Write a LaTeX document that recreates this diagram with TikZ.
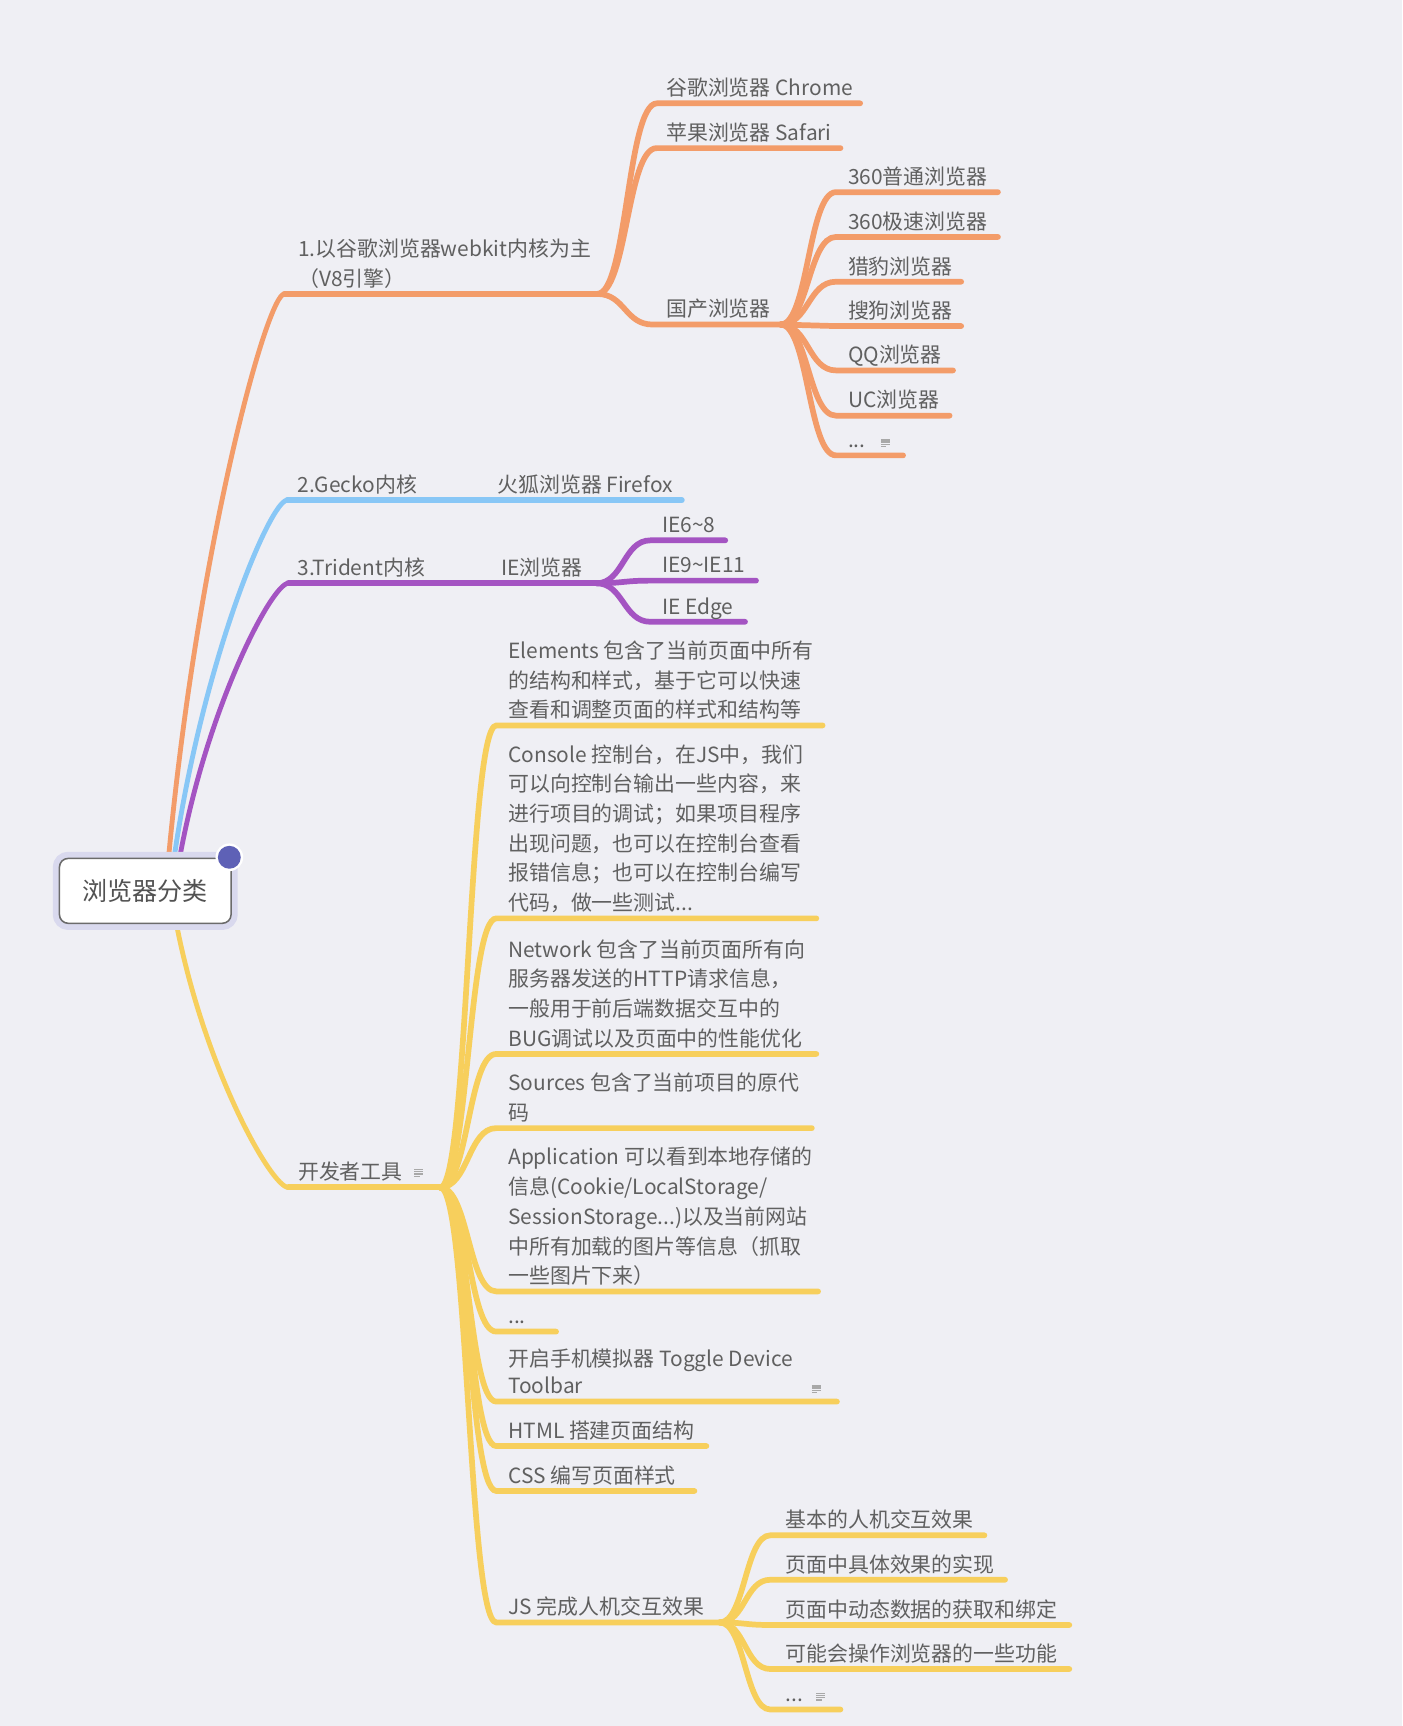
\documentclass[tikz,border=0pt]{standalone}
\usepackage{fontspec}
\newfontfamily\cjk{Noto Sans CJK SC}
\usetikzlibrary{calc}
\definecolor{bg}{HTML}{EFEFF4}
\definecolor{org}{HTML}{F39C69}
\definecolor{blu}{HTML}{88C7F6}
\definecolor{pur}{HTML}{A454C2}
\definecolor{yel}{HTML}{F7CF5C}
\definecolor{txt}{HTML}{606060}
\definecolor{halo}{HTML}{D9D9EE}
\definecolor{dotc}{HTML}{5E61B6}
\definecolor{iconc}{HTML}{A8A8A8}
\definecolor{rootborder}{HTML}{6B6B6B}
% root connector: S -> C
\newcommand\rootlink[3]{%
  \coordinate (ra) at ($(#2)!0.25!(#3)$);
  \coordinate (rb) at ($(#2)!0.55!(#3)$);
  \coordinate (rd) at ($(#2)!0.85!(#3)$);
  \draw[#1] (#2) .. controls (ra |- rb) and (rd |- #3) .. (#3);}
% child connector: P -> C -- E
\newcommand\kid[4]{%
  \coordinate (km) at ($(#2)!0.5!(#3)$);
  \draw[#1] (#2) .. controls (km |- #2) and (km |- #3) .. (#3) -- (#4);}
% leaf: #1 colour, #2 parent fan, #3 name, #4 Cx, #5 Cy, #6 Ex, #7 text x, #8 last-line baseline, #9 text
\newcommand\leaf[9]{%
  \coordinate (#3-c) at (#4,#5);
  \coordinate (#3-e) at (#6,#5);
  \kid{kidconn,#1}{#2}{#3-c}{#3-e}
  \node[lbl] (#3) at (#7,#8) {#9};}
\newcommand\noteicon[2]{%
  \begin{scope}[shift={(#1,#2)}]
    \foreach \yy/\ww in {-3/8,-1/8,1/8,3/5}
      \draw[iconc, line width=0.6pt] (-4,\yy) -- (-4+\ww,\yy);
  \end{scope}}
\begin{document}
\begin{tikzpicture}[x=0.5pt,y=-0.5pt,
  lbl/.style={font=\cjk\fontsize{9.5}{13.5}\selectfont, text=txt, inner sep=0pt, anchor=base west, align=left},
  ul/.style={line width=2.7pt, line cap=round},
  rootconn/.style={line width=2.2pt, line cap=round},
  kidconn/.style={line width=2.6pt, line cap=round},
  rootbox/.style={draw=rootborder, fill=white, rounded corners=4pt, line width=0.7pt,
    preaction={draw=halo, line width=6pt, rounded corners=5pt},
    minimum width=78pt, minimum height=29.5pt, inner sep=0pt,
    font=\cjk\fontsize{11.4}{14}\selectfont, text=txt!85!black},
]
\fill[bg] (0,0) rectangle (1274,1568.4);
\useasboundingbox (0,0) rectangle (1274,1568.4);

% ---------- root branches ----------
\coordinate (S1) at (153,781);
\coordinate (S2) at (158,781);
\coordinate (S3) at (163,781);
\coordinate (S4) at (160,838);
\coordinate (C1) at (258.4,267.1);  \coordinate (E1) at (542.7,267.1);
\coordinate (C2) at (261,454.5);    \coordinate (E2) at (619.5,454.5);
\coordinate (C3) at (262,530);      \coordinate (E3) at (542,530);
\coordinate (C4) at (262,1079);     \coordinate (E4) at (400,1079);

\rootlink{rootconn,org}{S1}{C1}
\draw[ul,org] (C1) -- (E1);
\rootlink{rootconn,blu}{S2}{C2}
\draw[ul,blu] (C2) -- (E2);
\rootlink{rootconn,pur}{S3}{C3}
\draw[ul,pur] (C3) -- (E3);
\rootlink{rootconn,yel}{S4}{C4}
\draw[ul,yel] (C4) -- (E4);

\node[lbl] (b1) at (270.5,260.1) {1.以谷歌浏览器webkit内核为主\\（V8引擎）};
\node[lbl] (b2) at (270,447.5) {2.Gecko内核};
\node[lbl] (ff) at (451.6,447.5) {火狐浏览器 Firefox};
\node[lbl] (b3) at (270,523) {3.Trident内核};
\node[lbl] (ie) at (455,523) {IE浏览器};
\node[lbl] (b4) at (270.5,1072) {开发者工具};
\noteicon{380.3}{1065.8}

% ---------- orange children ----------
\leaf{org}{E1}{chrome}{597}{93.9}{781.6}{605}{86.9}{谷歌浏览器 Chrome}
\leaf{org}{E1}{safari}{596.7}{134.6}{763.7}{605}{127.6}{苹果浏览器 Safari}
\leaf{org}{E1}{gc}{593}{294.9}{709.3}{605}{287.9}{国产浏览器}
\leaf{org}{gc-e}{q1}{759.7}{174.6}{906.8}{770.2}{167.6}{360普通浏览器}
\leaf{org}{gc-e}{q2}{759.7}{215.3}{906.8}{770.2}{208.3}{360极速浏览器}
\leaf{org}{gc-e}{q3}{759.7}{256}{873.4}{770.2}{249}{猎豹浏览器}
\leaf{org}{gc-e}{q4}{759.7}{296.3}{873.4}{770.2}{289.3}{搜狗浏览器}
\leaf{org}{gc-e}{q5}{759.7}{336.6}{866}{770.2}{329.6}{QQ浏览器}
\leaf{org}{gc-e}{q6}{759.7}{377.7}{862.9}{770.2}{370.7}{UC浏览器}
\leaf{org}{gc-e}{q7}{759.7}{413.8}{820.6}{770.2}{406.8}{...}
\noteicon{804.4}{402.7}

% ---------- purple children ----------
\leaf{pur}{E3}{ie1}{591}{491}{659}{601.3}{484}{IE6\textasciitilde 8}
\leaf{pur}{E3}{ie2}{591}{527.6}{687}{601.3}{520.6}{IE9\textasciitilde IE11}
\leaf{pur}{E3}{ie3}{591}{565}{677}{601.3}{558}{IE Edge}

% ---------- yellow children ----------
\leaf{yel}{E4}{d1}{451}{659.2}{747.5}{461.5}{652.2}{Elements 包含了当前页面中所有\\的结构和样式，基于它可以快速\\查看和调整页面的样式和结构等}
\leaf{yel}{E4}{d2}{451}{834.5}{741.8}{461.5}{827.5}{Console 控制台，在JS中，我们\\可以向控制台输出一些内容，来\\进行项目的调试；如果项目程序\\出现问题，也可以在控制台查看\\报错信息；也可以在控制台编写\\代码，做一些测试...}
\leaf{yel}{E4}{d3}{451}{957.7}{741.8}{461.5}{950.7}{Network 包含了当前页面所有向\\服务器发送的HTTP请求信息，\\一般用于前后端数据交互中的\\BUG调试以及页面中的性能优化}
\leaf{yel}{E4}{d4}{451}{1025.1}{737.7}{461.5}{1018.1}{Sources 包含了当前项目的原代\\码}
\leaf{yel}{E4}{d5}{451}{1173.5}{743.4}{461.5}{1166.5}{Application 可以看到本地存储的\\信息(Cookie/LocalStorage/\\SessionStorage...)以及当前网站\\中所有加载的图片等信息（抓取\\一些图片下来）}
\leaf{yel}{E4}{d6}{451}{1210}{505.3}{461.5}{1203}{...}
\leaf{yel}{E4}{d7}{451}{1273.6}{760.5}{461.5}{1266.6}{开启手机模拟器 Toggle Device\\[-1pt]Toolbar}
\noteicon{741.8}{1262.3}
\leaf{yel}{E4}{d8}{451}{1314}{641.9}{461.5}{1307}{HTML 搭建页面结构}
\leaf{yel}{E4}{d9}{451}{1354.8}{631}{461.5}{1347.8}{CSS 编写页面样式}
\leaf{yel}{E4}{js}{451}{1474.3}{654}{461.5}{1467.3}{JS 完成人机交互效果}
\leaf{yel}{js-e}{j1}{700}{1395.1}{894.5}{713.4}{1388.1}{基本的人机交互效果}
\leaf{yel}{js-e}{j2}{700}{1435.5}{913.3}{713.4}{1428.5}{页面中具体效果的实现}
\leaf{yel}{js-e}{j3}{700}{1476.6}{971.7}{713.4}{1469.6}{页面中动态数据的获取和绑定}
\leaf{yel}{js-e}{j4}{700}{1516.6}{971.7}{713.4}{1509.6}{可能会操作浏览器的一些功能}
\leaf{yel}{js-e}{j5}{700}{1553.4}{763.7}{713.4}{1546.4}{...}
\noteicon{745.9}{1541.7}

% ---------- root ----------
\node[rootbox] (root) at (132,809.5) {浏览器分类};
\fill[white] (208.4,779) circle[radius=6.3pt];
\fill[dotc] (208.4,779) circle[radius=5.2pt];
\end{tikzpicture}
\end{document}
